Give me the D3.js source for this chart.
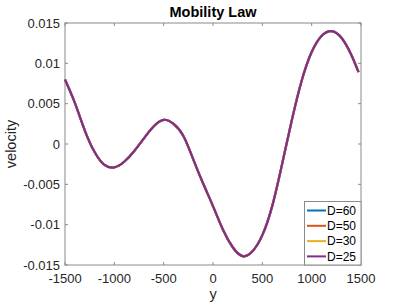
<!DOCTYPE html>
<html>
<head>
<meta charset="utf-8">
<script src="https://cdn.jsdelivr.net/npm/d3@7"></script>
<style>
body { margin: 0; background: #fff; }
svg { display: block; font-family: "Liberation Sans", Arial, sans-serif; }
</style>
</head>
<body>
<div></div>
<script>
var width = 399;
var height = 305;
var margin = {left: 65, right: 38, top: 23, bottom: 40};

var yPos = [-1500, -1400, -1300, -1200, -1100, -1000, -900, -800, -700, -600, -500,
            -400, -300, -200, -100, 0, 100, 200, 300, 400, 500, 600, 700, 800,
            900, 1000, 1100, 1200, 1300, 1400, 1475];
var velocity = [0.0080, 0.0051, 0.0017, -0.0010, -0.0026, -0.0029, -0.0022, -0.0009, 0.0007, 0.0022, 0.0030,
                0.0025, 0.0010, -0.0019, -0.0049, -0.0077, -0.0106, -0.0128, -0.0139, -0.0133, -0.0113, -0.0077, -0.0025, 0.0030,
                0.0079, 0.0114, 0.0134, 0.0140, 0.0132, 0.0111, 0.0089];
// all four curves lie on top of each other
var seriesNames = ["D=60", "D=50", "D=30", "D=25"];
var seriesColors = ["#0072BD", "#D95319", "#EDB120", "#7E2F8E"];
var seriesValues = [velocity, velocity, velocity, velocity];

var xTicks = [-1500, -1000, -500, 0, 500, 1000, 1500];
var xTickLabels = ["-1500", "-1000", "-500", "0", "500", "1000", "1500"];
var yTicks = [-0.015, -0.01, -0.005, 0, 0.005, 0.01, 0.015];
var yTickLabels = ["-0.015", "-0.01", "-0.005", "0", "0.005", "0.01", "0.015"];

var svg = d3.select("div")
	.append("svg")
	.attr("width", width)
	.attr("height", height);

var x = d3.scaleLinear().domain([-1500, 1500]).range([margin.left, width - margin.right]);
var y = d3.scaleLinear().domain([-0.015, 0.015]).range([height - margin.bottom, margin.top]);

var axisColor = "#8a8a8a";
var textColor = "#262626";

// ticks (inward, all four sides)
var ax = svg.append("g");
xTicks.forEach(function(t) {
	ax.append("line").attr("x1", x(t)).attr("x2", x(t))
		.attr("y1", y(-0.015)).attr("y2", y(-0.015) - 3);
	ax.append("line").attr("x1", x(t)).attr("x2", x(t))
		.attr("y1", y(0.015)).attr("y2", y(0.015) + 3);
});
yTicks.forEach(function(t) {
	ax.append("line").attr("x1", x(-1500)).attr("x2", x(-1500) + 3)
		.attr("y1", y(t)).attr("y2", y(t));
	ax.append("line").attr("x1", x(1500)).attr("x2", x(1500) - 3)
		.attr("y1", y(t)).attr("y2", y(t));
});
ax.selectAll("line").attr("stroke", axisColor).attr("stroke-width", 1);

svg.append("rect")
	.attr("x", x(-1500))
	.attr("y", y(0.015))
	.attr("width", x(1500) - x(-1500))
	.attr("height", y(-0.015) - y(0.015))
	.attr("fill", "none")
	.attr("stroke", axisColor)
	.attr("stroke-width", 1);

// tick labels
svg.selectAll(".xl")
	.data(xTicks)
	.enter().append("text")
	.attr("x", function(d) { return x(d); })
	.attr("y", height - margin.bottom + 17.5)
	.attr("text-anchor", "middle")
	.style("font-size", "13px")
	.attr("fill", textColor)
	.text(function(d, i) { return xTickLabels[i]; });

svg.selectAll(".yl")
	.data(yTicks)
	.enter().append("text")
	.attr("x", margin.left - 5)
	.attr("y", function(d) { return y(d) + 4.5; })
	.attr("text-anchor", "end")
	.style("font-size", "13px")
	.attr("fill", textColor)
	.text(function(d, i) { return yTickLabels[i]; });

// curves
var line = d3.line()
	.x(function(d, i) { return x(yPos[i]); })
	.y(function(d) { return y(d); })
	.curve(d3.curveNatural);

svg.selectAll(".curve")
	.data(seriesValues)
	.enter().append("path")
	.attr("d", line)
	.attr("fill", "none")
	.attr("stroke", function(d, i) { return seriesColors[i]; })
	.attr("stroke-width", 2.2);

// labels
svg.append("text")
	.attr("x", (x(-1500) + x(1500)) / 2)
	.attr("y", 16.5)
	.attr("text-anchor", "middle")
	.style("font-size", "14.5px")
	.style("font-weight", "bold")
	.attr("fill", "#000")
	.text("Mobility Law");

svg.append("text")
	.attr("x", (x(-1500) + x(1500)) / 2)
	.attr("y", 299)
	.attr("text-anchor", "middle")
	.style("font-size", "14.5px")
	.attr("fill", textColor)
	.text("y");

svg.append("text")
	.attr("transform", "translate(16," + y(0) + ") rotate(-90)")
	.attr("text-anchor", "middle")
	.style("font-size", "14.5px")
	.attr("fill", textColor)
	.text("velocity");

// legend
var lg = svg.append("g");
lg.append("rect")
	.attr("x", 304.5)
	.attr("y", 201.5)
	.attr("width", x(1500) - 304.5)
	.attr("height", y(-0.015) - 201.5)
	.attr("fill", "#fff")
	.attr("stroke", axisColor)
	.attr("stroke-width", 1);

seriesNames.forEach(function(name, i) {
	var ly = 210.5 + i * 15.3;
	lg.append("line")
		.attr("x1", 307).attr("x2", 326)
		.attr("y1", ly).attr("y2", ly)
		.attr("stroke", seriesColors[i])
		.attr("stroke-width", 2);
	lg.append("text")
		.attr("x", 327)
		.attr("y", ly + 4.3)
		.style("font-size", "12px")
		.attr("fill", "#000")
		.text(name);
});
</script>
</body>
</html>
